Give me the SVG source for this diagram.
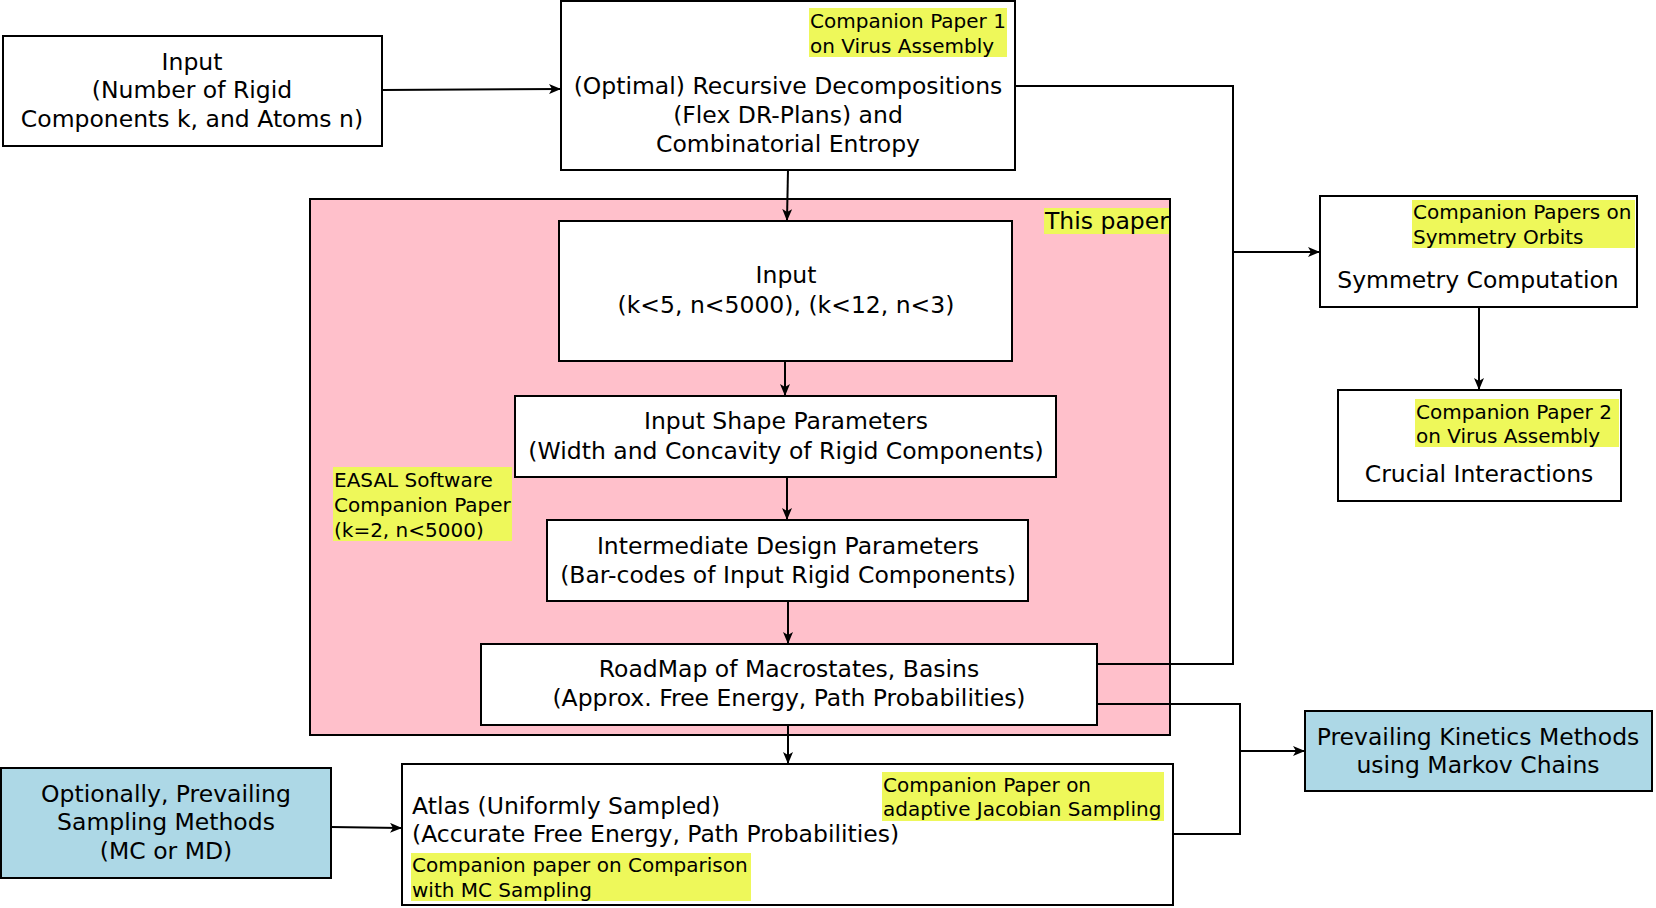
<svg xmlns="http://www.w3.org/2000/svg" width="1656" height="908" viewBox="0 0 1656 908">
<defs>
<marker id="arr" viewBox="0 0 12 10" refX="11" refY="5" markerWidth="12" markerHeight="10" markerUnits="userSpaceOnUse" orient="auto">
<path d="M0,0 L12,5 L0,10 L3,5 z" fill="#000"/>
</marker>
<style>
.box{fill:#fff;stroke:#000;stroke-width:2}
.blue{fill:#ADD8E6;stroke:#000;stroke-width:2}
.pink{fill:#FFC0CB;stroke:#000;stroke-width:2}
.hl{fill:#EEF85A}
.t{font-family:"DejaVu Sans",sans-serif;font-size:23.5px;fill:#000;dominant-baseline:central}
.s{font-family:"DejaVu Sans",sans-serif;font-size:20px;fill:#000;dominant-baseline:central}
.m{text-anchor:middle}
.c{fill:none;stroke:#000;stroke-width:2}
.a{marker-end:url(#arr)}
</style>
</defs>
<rect width="1656" height="908" fill="#fff"/>
<g id="thispaper">
<rect class="pink" x="310" y="199" width="860" height="536"/>
<rect class="hl" x="1044" y="208" width="125" height="26"/>
<text class="t" x="1045" y="221">This paper</text>
<rect class="hl" x="333" y="467" width="179" height="74"/>
<text class="s" x="334" y="480">EASAL Software</text>
<text class="s" x="334" y="505">Companion Paper</text>
<text class="s" x="334" y="530">(k=2, n&lt;5000)</text>
</g>
<g id="input">
<rect class="box" x="3" y="36" width="379" height="110"/>
<text class="t m" x="192" y="62">Input</text>
<text class="t m" x="192" y="90">(Number of Rigid</text>
<text class="t m" x="192" y="119">Components k, and Atoms n)</text>
</g>
<g id="decomp">
<rect class="box" x="561" y="1" width="454" height="169"/>
<rect class="hl" x="809" y="8" width="198" height="49"/>
<text class="s" x="810" y="21">Companion Paper 1</text>
<text class="s" x="810" y="46">on Virus Assembly</text>
<text class="t m" x="788" y="86">(Optimal) Recursive Decompositions</text>
<text class="t m" x="788" y="115">(Flex DR-Plans) and</text>
<text class="t m" x="788" y="144">Combinatorial Entropy</text>
</g>
<g id="input2">
<rect class="box" x="559" y="221" width="453" height="140"/>
<text class="t m" x="786" y="275">Input</text>
<text class="t m" x="786" y="305">(k&lt;5, n&lt;5000), (k&lt;12, n&lt;3)</text>
</g>
<g id="shape">
<rect class="box" x="515" y="396" width="541" height="81"/>
<text class="t m" x="786" y="421">Input Shape Parameters</text>
<text class="t m" x="786" y="451">(Width and Concavity of Rigid Components)</text>
</g>
<g id="intermediate">
<rect class="box" x="547" y="520" width="481" height="81"/>
<text class="t m" x="788" y="546">Intermediate Design Parameters</text>
<text class="t m" x="788" y="575">(Bar-codes of Input Rigid Components)</text>
</g>
<g id="roadmap">
<rect class="box" x="481" y="644" width="616" height="81"/>
<text class="t m" x="789" y="669">RoadMap of Macrostates, Basins</text>
<text class="t m" x="789" y="698">(Approx. Free Energy, Path Probabilities)</text>
</g>
<g id="atlas">
<rect class="box" x="402" y="764" width="771" height="141"/>
<text class="t" x="412" y="806">Atlas (Uniformly Sampled)</text>
<text class="t" x="412" y="834">(Accurate Free Energy, Path Probabilities)</text>
<rect class="hl" x="882" y="772" width="282" height="49"/>
<text class="s" x="883" y="785">Companion Paper on</text>
<text class="s" x="883" y="809">adaptive Jacobian Sampling</text>
<rect class="hl" x="411" y="853" width="340" height="48"/>
<text class="s" x="412" y="865">Companion paper on Comparison</text>
<text class="s" x="412" y="890">with MC Sampling</text>
</g>
<g id="sampling">
<rect class="blue" x="1" y="768" width="330" height="110"/>
<text class="t m" x="166" y="794">Optionally, Prevailing</text>
<text class="t m" x="166" y="822">Sampling Methods</text>
<text class="t m" x="166" y="851">(MC or MD)</text>
</g>
<g id="kinetics">
<rect class="blue" x="1305" y="711" width="347" height="80"/>
<text class="t m" x="1478" y="737">Prevailing Kinetics Methods</text>
<text class="t m" x="1478" y="765">using Markov Chains</text>
</g>
<g id="symmetry">
<rect class="box" x="1320" y="196" width="317" height="111"/>
<rect class="hl" x="1412" y="200" width="223" height="48"/>
<text class="s" x="1413" y="212">Companion Papers on</text>
<text class="s" x="1413" y="237">Symmetry Orbits</text>
<text class="t m" x="1478" y="280">Symmetry Computation</text>
</g>
<g id="crucial">
<rect class="box" x="1338" y="390" width="283" height="111"/>
<rect class="hl" x="1415" y="399" width="204" height="48"/>
<text class="s" x="1416" y="412">Companion Paper 2</text>
<text class="s" x="1416" y="436">on Virus Assembly</text>
<text class="t m" x="1479" y="474">Crucial Interactions</text>
</g>
<g id="connectors">
<path class="c a" d="M382,90 L560,89"/>
<path class="c a" d="M788,170 L787,220"/>
<path class="c a" d="M785,361 L785,395"/>
<path class="c a" d="M787,477 L787,519"/>
<path class="c a" d="M788,601 L788,643"/>
<path class="c a" d="M788,725 L788,763"/>
<path class="c a" d="M331,827 L401,828"/>
<path class="c" d="M1015,86 L1233,86 L1233,664 L1097,664"/>
<path class="c a" d="M1233,252 L1319,252"/>
<path class="c a" d="M1479,307 L1479,389"/>
<path class="c" d="M1097,704 L1240,704 L1240,834 L1173,834"/>
<path class="c a" d="M1240,751 L1304,751"/>
</g>
</svg>
